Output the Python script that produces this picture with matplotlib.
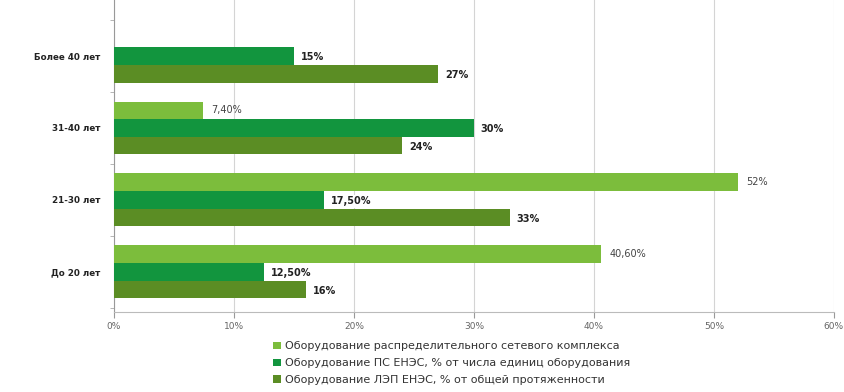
"""Age structure of grid equipment: horizontal grouped bar chart."""

import numpy as np
import matplotlib

matplotlib.use("Agg")
import matplotlib.pyplot as plt

plt.rcParams["font.family"] = ["DejaVu Sans"]

# ── data (top to bottom as in the picture) ─────────────────────────────
categories = ["Более 40 лет", "31-40 лет", "21-30 лет", "До 20 лет"]
distrib = [np.nan, 7.4, 52.0, 40.6]
ps_enes = [15.0, 30.0, 17.5, 12.5]
lep_enes = [27.0, 24.0, 33.0, 16.0]
distrib_labels = ["", "7,40%", "52%", "40,60%"]
ps_labels = ["15%", "30%", "17,50%", "12,50%"]
lep_labels = ["27%", "24%", "33%", "16%"]
series_names = [
    "Оборудование распределительного сетевого комплекса",
    "Оборудование ПС ЕНЭС, % от числа единиц оборудования",
    "Оборудование ЛЭП ЕНЭС, % от общей протяженности",
]
xticks = [0, 10, 20, 30, 40, 50, 60]
xtick_labels = ["0%", "10%", "20%", "30%", "40%", "50%", "60%"]

colors = ["#7cbd3c", "#12953e", "#5b8d24"]

fig = plt.figure(figsize=(8.44, 3.92), dpi=100)
ax = fig.add_axes([0.135, 0.204, 0.853, 0.796])

ypos = np.arange(len(categories))[::-1]  # top category at highest y
bh = 0.245
off = 0.245

series = [
    (distrib, distrib_labels, +off, False),
    (ps_enes, ps_labels, 0.0, True),
    (lep_enes, lep_labels, -off, True),
]

for i, (vals, labels, dy, bold) in enumerate(series):
    ax.barh(ypos + dy, vals, height=bh, color=colors[i], label=series_names[i],
            zorder=3)
    for y, v, t in zip(ypos, vals, labels):
        if np.isnan(v) or not t:
            continue
        kw = dict(fontsize=7, va="center", ha="left", zorder=4)
        if bold:
            kw.update(fontweight="bold", color="#222222",
                      bbox=dict(boxstyle="square,pad=0.15", fc="white",
                                ec="none"))
            ax.annotate(t, (v, y + dy), xytext=(5, -1),
                        textcoords="offset points", **kw)
        else:
            kw.update(color="#444444")
            ax.annotate(t, (v, y + dy), xytext=(6, 0),
                        textcoords="offset points", **kw)

ax.set_xlim(0, 60)
ax.set_ylim(-0.56, 3.78)
ax.set_xticks(xticks)
ax.set_xticklabels(xtick_labels, fontsize=6.5, color="#666666")
ax.set_yticks(ypos)
ax.set_yticklabels(categories, fontsize=6.3, fontweight="bold", color="#222222")
ax.set_yticks(np.arange(-0.5, 3.6, 1.0), minor=True)
ax.tick_params(axis="y", which="major", length=0, pad=10)
ax.tick_params(axis="y", which="minor", length=3, color="#aaaaaa")
ax.tick_params(axis="x", length=4, color="#999999", pad=3)

ax.grid(axis="x", color="#d4d4d4", linewidth=0.8, zorder=0)
for side in ("top", "right"):
    ax.spines[side].set_visible(False)
ax.spines["left"].set_color("#999999")
ax.spines["bottom"].set_color("#bbbbbb")

fig.legend(loc="upper left", bbox_to_anchor=(0.317, 0.143), frameon=False,
           fontsize=8, handlelength=0.7, handleheight=0.7,
           handletextpad=0.4, labelspacing=0.62, borderpad=0,
           labelcolor="#333333")

fig.savefig("out.png", dpi=100)
